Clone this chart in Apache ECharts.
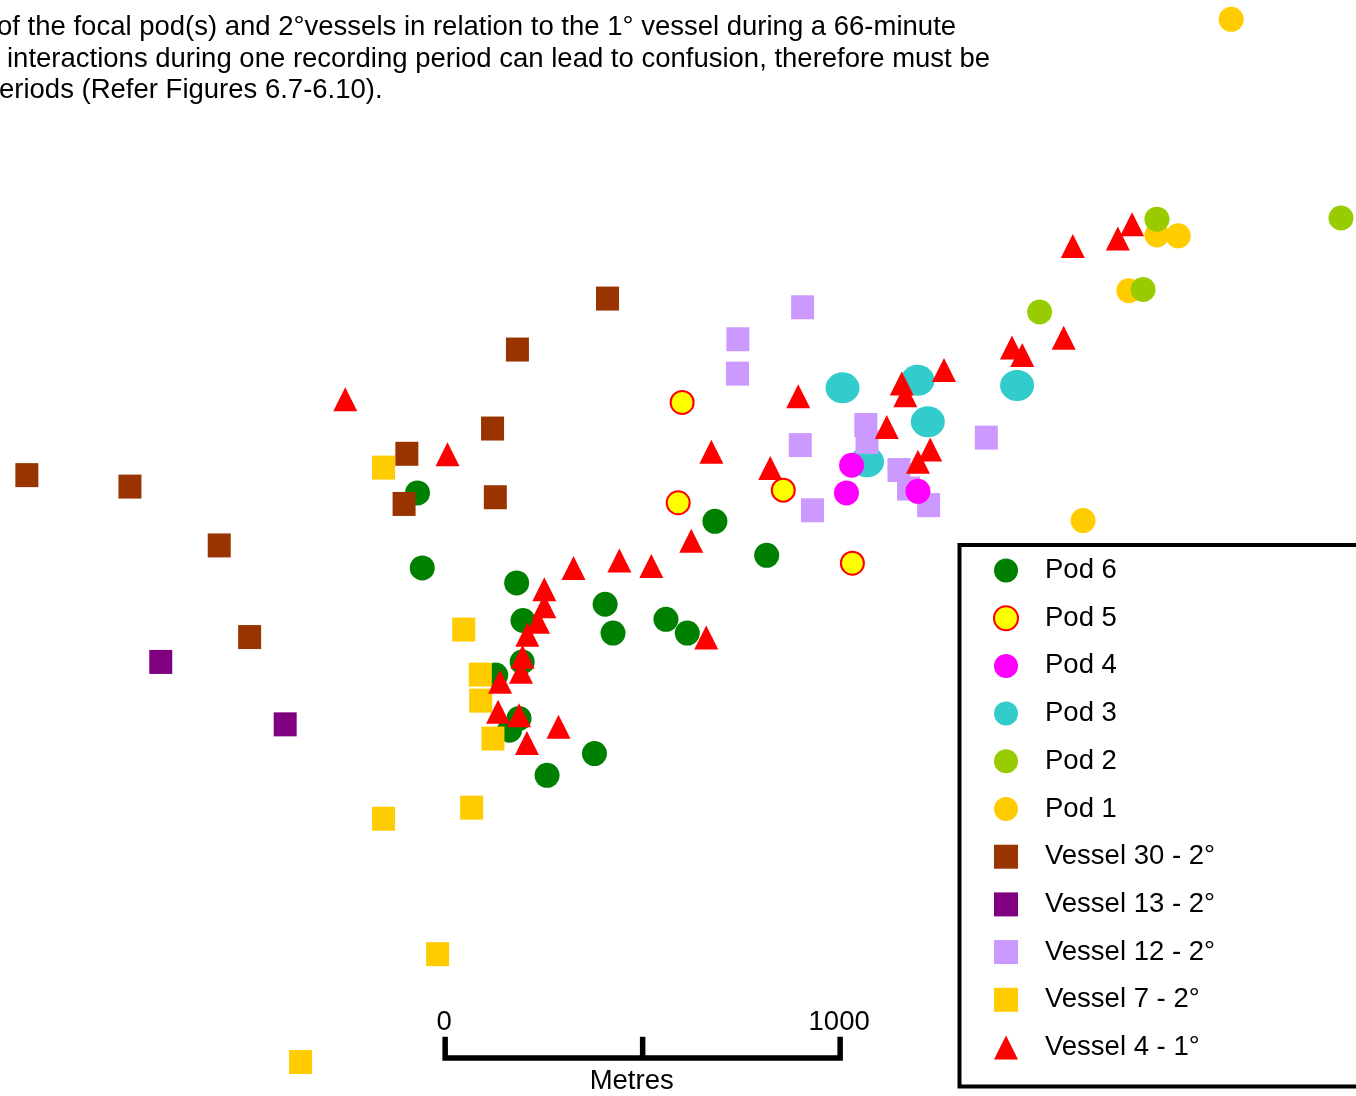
<!DOCTYPE html>
<html>
<head>
<meta charset="utf-8">
<title>Focal pods and vessels relative to the 1° vessel</title>
<script src="https://cdn.jsdelivr.net/npm/echarts@6/dist/echarts.min.js"></script>
<style>
  html, body { margin: 0; padding: 0; background: #ffffff; }
  #chart { width: 1356px; height: 1096px; }
</style>
</head>
<body>
<div id="chart"></div>
<script>
// Positions in metres (easting, northing) relative to the scale-bar origin.
const pod6 = [[-70,1431],[-58,1241],[181,1203],[405,1149],[197,1108],[425,1076],[559,1111],[613,1076],
              [683,1359],[814,1273],[195,1003],[128,970],[187,860],[163,830],[378,771],[258,716]];
const pod5 = [[600,1660],[590,1406],[856,1438],[1031,1253]];
const pod4 = [[1029,1501],[1016,1431],[1197,1435]];
const pod3 = [[1006,1697],[1196,1716],[1448,1703],[1222,1611],[1068,1510]];
const pod2 = [[1802,2124],[2268,2127],[1767,1946],[1505,1889]];
const pod1 = [[1990,2630],[1802,2084],[1856,2082],[1731,1943],[1615,1361]];
const vessel30 = [[-1059,1476],[-798,1447],[-572,1298],[-495,1066],[-97,1530],[-104,1403],
                  [120,1594],[127,1420],[183,1794],[411,1923]];
const vessel13 = [[-720,1003],[-405,845]];
const vessel12 = [[905,1901],[741,1820],[740,1733],[1065,1603],[1068,1560],[899,1552],
                  [1149,1489],[1173,1442],[930,1387],[1224,1400],[1370,1571]];
const vessel7 = [[-156,1495],[47,1085],[89,971],[90,905],[121,809],[67,634],[-156,606],[-19,263],[-366,-10]];
const vessel4 = [[-253,1668],[6,1529],[674,1535],[894,1676],[823,1494],[623,1310],[325,1241],[441,1260],
                 [522,1246],[251,1187],[251,1144],[235,1105],[208,1072],[661,1065],[196,1016],[192,978],
                 [139,953],[134,877],[187,868],[287,839],[207,798],[1118,1598],[1156,1708],[1165,1678],
                 [1263,1742],[1228,1541],[1197,1510],[1435,1799],[1461,1780],[1566,1824],[1589,2056],
                 [1703,2075],[1739,2111]];

// Scale bar: 0 – 1000 m with a midpoint tick.
const scaleTicks = [0, 500, 1000];
const scaleLabels = ['0', '1000'];
const scaleUnit = 'Metres';

const legendNames = ['Pod 6','Pod 5','Pod 4','Pod 3','Pod 2','Pod 1',
                     'Vessel 30 - 2°','Vessel 13 - 2°','Vessel 12 - 2°','Vessel 7 - 2°','Vessel 4 - 1°'];
const legendIcons = ['circle','circle','circle','circle','circle','circle','rect','rect','rect','rect','triangle'];

const captionLines = [
  'of the focal pod(s) and 2°vessels in relation to the 1° vessel during a 66-minute',
  'interactions during one recording period can lead to confusion, therefore must be',
  'eriods (Refer Figures 6.7-6.10).'
];

const FONT = "'Liberation Sans', Arial, sans-serif";
const FONT_SIZE = 27.5;
const TICK_H = 54;

function pts(name, data, symbol, size, color, extra) {
  return Object.assign({
    name: name, type: 'scatter', data: data, symbol: symbol, symbolSize: size,
    itemStyle: { color: color, opacity: 1 }, clip: false, silent: true
  }, extra || {});
}

const series = [
  // drawing order (later on top)
  pts('Pod 1', pod1, 'circle', 25, '#FFCC00'),
  pts('Pod 2', pod2, 'circle', 25, '#99CC00'),
  pts('Pod 3', pod3, 'circle', [34, 31], '#33CCCC'),
  pts('Vessel 12 - 2°', vessel12, 'rect', [23, 24], '#CC99FF'),
  pts('Pod 4', pod4, 'circle', 25, '#FF00FF'),
  pts('Pod 5', pod5, 'circle', 23, '#FFFF00', { itemStyle: { color: '#FFFF00', borderColor: '#FF0000', borderWidth: 2, opacity: 1 } }),
  pts('Pod 6', pod6, 'circle', 25, '#008000'),
  pts('Vessel 13 - 2°', vessel13, 'rect', [23, 24], '#800080'),
  pts('Vessel 30 - 2°', vessel30, 'rect', [23, 24], '#993300'),
  pts('Vessel 7 - 2°', vessel7, 'rect', [23, 24], '#FFCC00'),
  pts('Vessel 4 - 1°', vessel4, 'triangle', [24, 24], '#FF0000'),
  // scale bar
  {
    type: 'line', silent: true, symbol: 'none', clip: false, z: 5,
    data: [[scaleTicks[0], TICK_H], [scaleTicks[0], 0], [scaleTicks[2], 0], [scaleTicks[2], TICK_H]],
    lineStyle: { color: '#000', width: 5.5, join: 'miter', cap: 'butt' }
  },
  {
    type: 'line', silent: true, symbol: 'none', clip: false, z: 5,
    data: [[scaleTicks[1], 0], [scaleTicks[1], TICK_H]],
    lineStyle: { color: '#000', width: 5.5, cap: 'butt' }
  },
  {
    type: 'scatter', silent: true, symbolSize: 0, clip: false, z: 5,
    itemStyle: { opacity: 1 },
    data: [
      { value: [scaleTicks[0], TICK_H], name: scaleLabels[0] },
      { value: [scaleTicks[2], TICK_H], name: scaleLabels[1] }
    ],
    label: { show: true, position: 'top', distance: 0, offset: [-1, 0], formatter: '{b}',
             fontFamily: FONT, fontSize: FONT_SIZE, color: '#000', opacity: 1 }
  },
  {
    type: 'scatter', silent: true, symbolSize: 0, clip: false, z: 5,
    itemStyle: { opacity: 1 },
    data: [{ value: [scaleTicks[1], 0], name: scaleUnit }],
    label: { show: true, position: 'bottom', distance: 9, offset: [-11, 0], formatter: '{b}',
             fontFamily: FONT, fontSize: FONT_SIZE, color: '#000', opacity: 1 }
  }
];

const chart = echarts.init(document.getElementById('chart'), null, { renderer: 'canvas' });
chart.setOption({
  animation: false,
  backgroundColor: '#ffffff',
  grid: { left: 0, right: 0, top: 0, bottom: 0 },
  xAxis: { type: 'value', min: -1127, max: 2306, show: false },
  yAxis: { type: 'value', min: -96, max: 2679, show: false },
  legend: {
    orient: 'vertical',
    left: 959.5, top: 545, height: 540,
    padding: [11.5, 400, 25, 33.5],
    borderColor: '#000', borderWidth: 4, backgroundColor: '#fff',
    itemWidth: 24, itemHeight: 24, itemGap: 19.7,
    selectedMode: false,
    textStyle: { fontFamily: FONT, fontSize: FONT_SIZE, color: '#000', padding: [0, 0, 0, 22] },
    data: legendNames.map((n, i) => ({ name: n, icon: legendIcons[i] }))
  },
  graphic: captionLines.map((t, i) => ({
    type: 'text', silent: true,
    x: [-3, 7, -1][i], y: [27, 59, 90][i],
    style: { text: t, font: FONT_SIZE + 'px ' + FONT, fill: '#000', verticalAlign: 'middle', textAlign: 'left' }
  })),
  series: series
});
</script>
</body>
</html>
